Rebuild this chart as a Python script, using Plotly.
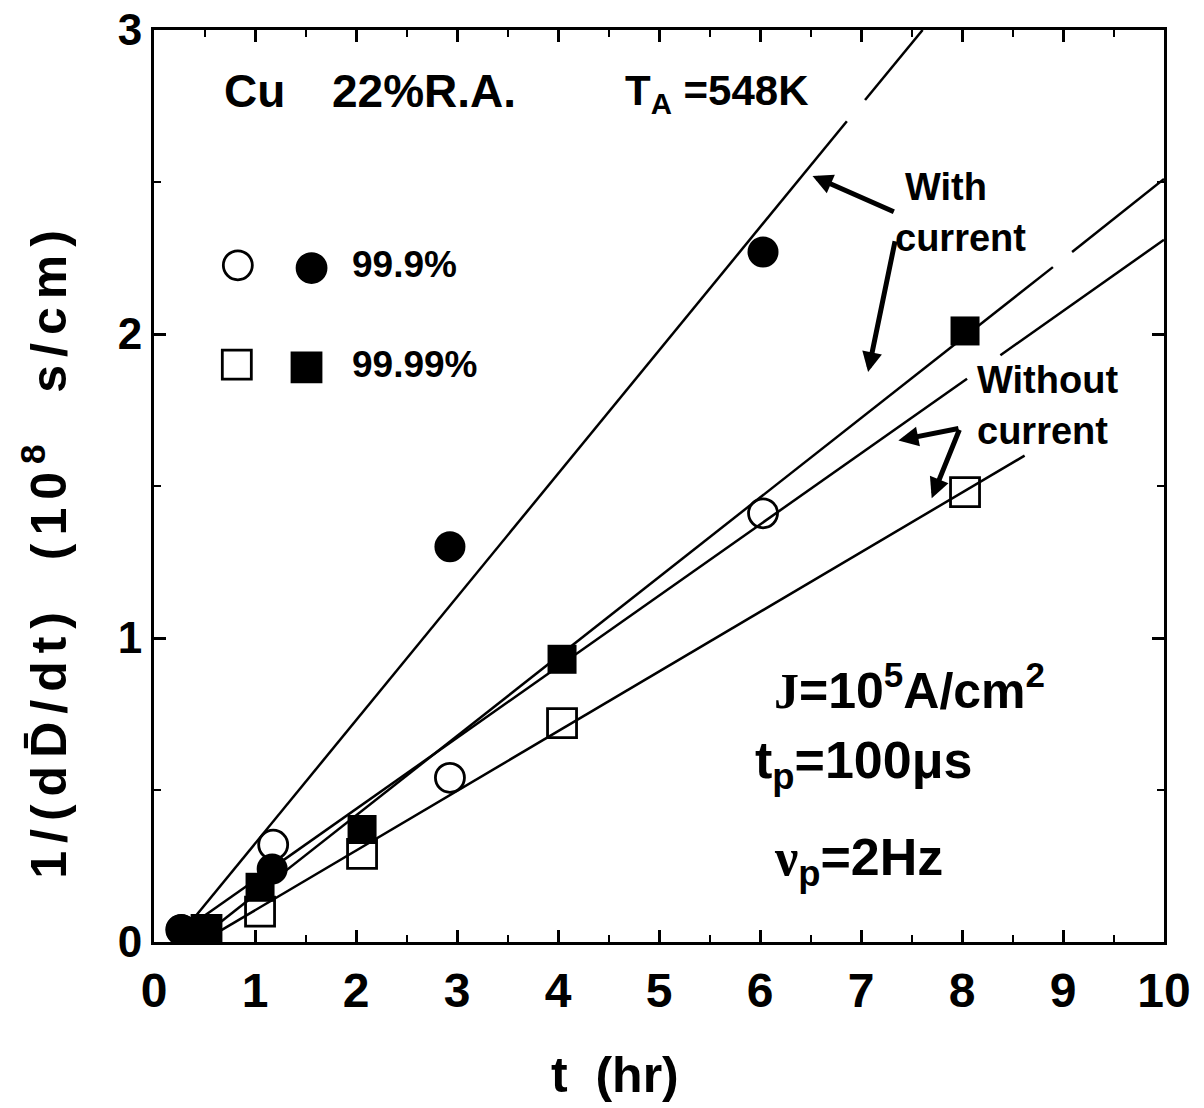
import plotly.graph_objects as go

# ---- data ----
# 99.9% Cu
t_circ_open = [0.27, 1.18, 2.93, 6.03]
d_circ_open = [0.04, 0.32, 0.54, 1.41]
t_circ_fill = [0.27, 1.17, 2.93, 6.03]
d_circ_fill = [0.04, 0.24, 1.30, 2.27]
# 99.99% Cu
t_sq_open = [0.52, 1.05, 2.06, 4.04, 8.03]
d_sq_open = [0.04, 0.10, 0.29, 0.72, 1.48]
t_sq_fill = [0.52, 1.05, 2.06, 4.04, 8.03]
d_sq_fill = [0.04, 0.18, 0.37, 0.93, 2.01]

# fitted lines (None = gap in the drawn line)
fit1_t = [0.35, 6.86, None, 7.04, 7.61]
fit1_d = [0.06, 2.70, None, 2.77, 3.00]
fit2_t = [0.50, 8.90, None, 9.09, 10.0]
fit2_d = [0.024, 2.22, None, 2.27, 2.51]
fit3_t = [0.40, 8.05, None, 8.38, 10.0]
fit3_d = [0.063, 1.853, None, 1.93, 2.31]
fit4_t = [0.55, 8.62]
fit4_d = [0.016, 1.60]

x_ticks = [0, 1, 2, 3, 4, 5, 6, 7, 8, 9, 10]
y_ticks = [0, 1, 2, 3]

FONT = "Liberation Sans, Arial, Helvetica, sans-serif"
BLACK = "black"

fig = go.Figure()

for ft, fd in [(fit1_t, fit1_d), (fit2_t, fit2_d), (fit3_t, fit3_d), (fit4_t, fit4_d)]:
    fig.add_trace(go.Scatter(x=ft, y=fd, mode="lines", line=dict(color=BLACK, width=2.5),
                             connectgaps=False, showlegend=False, hoverinfo="skip"))

MS = 29
fig.add_trace(go.Scatter(x=t_circ_open, y=d_circ_open, mode="markers",
                         marker=dict(symbol="circle-open", size=MS, color=BLACK, line=dict(width=2.8, color=BLACK)),
                         showlegend=False))
fig.add_trace(go.Scatter(x=t_sq_open, y=d_sq_open, mode="markers",
                         marker=dict(symbol="square-open", size=MS, color=BLACK, line=dict(width=2.8, color=BLACK)),
                         showlegend=False))
fig.add_trace(go.Scatter(x=t_circ_fill, y=d_circ_fill, mode="markers",
                         marker=dict(symbol="circle", size=MS + 2, color=BLACK),
                         showlegend=False))
fig.add_trace(go.Scatter(x=t_sq_fill, y=d_sq_fill, mode="markers",
                         marker=dict(symbol="square", size=MS, color=BLACK),
                         showlegend=False))

# key symbols on an invisible overlay axis (fractions of the plot area)
key_fx = [0.083, 0.156, 0.082, 0.151]
key_fy = [0.742, 0.739, 0.633, 0.630]
key_sym = ["circle-open", "circle", "square-open", "square"]
fig.add_trace(go.Scatter(x=key_fx, y=key_fy, xaxis="x2", yaxis="y2", mode="markers",
                         marker=dict(symbol=key_sym, size=MS, color=BLACK, line=dict(width=2.8, color=BLACK)),
                         showlegend=False, hoverinfo="skip"))

axis_common = dict(showline=True, linewidth=3, linecolor=BLACK, mirror="ticks",
                   ticks="inside", ticklen=12, tickwidth=2.5, tickcolor=BLACK,
                   showgrid=False, zeroline=False, automargin=False,
                   ticklabeloverflow="allow")

fig.update_layout(
    width=1204, height=1108,
    margin=dict(l=154, r=40, t=30, b=166),
    paper_bgcolor="white", plot_bgcolor="white",
    xaxis=dict(range=[0, 10], tickmode="array", tickvals=x_ticks,
               ticktext=[str(v) for v in x_ticks], ticklabelstandoff=4,
               tickfont=dict(family=FONT, size=48, color=BLACK, weight="bold"),
               minor=dict(ticks="inside", dtick=0.5, ticklen=7, tickwidth=2, tickcolor=BLACK),
               **axis_common),
    yaxis=dict(range=[0, 3], tickmode="array", tickvals=y_ticks,
               ticktext=[str(v) for v in y_ticks],
               tickfont=dict(family=FONT, size=44, color=BLACK, weight="bold"),
               minor=dict(ticks="inside", dtick=0.5, ticklen=7, tickwidth=2, tickcolor=BLACK),
               **axis_common),
    xaxis2=dict(overlaying="x", range=[0, 1], visible=False, anchor="y2"),
    yaxis2=dict(overlaying="y", range=[0, 1], visible=False, anchor="x2"),
)

def txt(x, y, s, size, xanchor="left", yanchor="middle", xref="x", yref="y", angle=0):
    fig.add_annotation(x=x, y=y, xref=xref, yref=yref, text=s, showarrow=False,
                       xanchor=xanchor, yanchor=yanchor, textangle=angle,
                       font=dict(family=FONT, size=size, color=BLACK, weight="bold"))

# header
txt(0.67, 2.80, "Cu", 46)
txt(1.74, 2.80, "22%R.A.", 46)
txt(4.64, 2.79, "T<sub>A</sub>\u00a0=548K", 42)
# key labels
txt(1.94, 2.23, "99.9%", 37)
txt(1.94, 1.90, "99.99%", 37)
# with / without current
txt(7.42, 2.485, "With", 38)
txt(7.32, 2.315, "current", 38)
txt(8.13, 1.85, "Without", 38)
txt(8.13, 1.68, "current", 38)
# conditions
txt(6.12, 0.84, "<span style='font-family:Liberation Serif'>J</span>=10<sup>5</sup>A/cm<sup>2</sup>", 50)
txt(5.93, 0.585, "t<sub>p</sub>=100\u03bcs", 52)
txt(6.12, 0.265, "<span style='font-family:Liberation Serif'>\u03bd</span><sub>p</sub>=2Hz", 52)

# axis titles
txt(0.456, -0.146, "t\u00a0\u00a0(hr)", 50, xanchor="center", xref="paper", yref="paper")
txt(-0.108, 0.43,
    "<span style='letter-spacing:8px'>1/(dD\u0304/dt)\u00a0\u00a0(10<sup>8</sup>\u00a0\u00a0s/cm)</span>", 50,
    xanchor="center", xref="paper", yref="paper", angle=-90)

# arrows
def arrow(hx, hy, tx, ty):
    fig.add_annotation(x=hx, y=hy, ax=tx, ay=ty, xref="x", yref="y", axref="x", ayref="y",
                       text="", showarrow=True, arrowhead=2, arrowsize=0.8, arrowwidth=5,
                       arrowcolor=BLACK)

arrow(6.52, 2.52, 7.34, 2.40)
arrow(7.07, 1.875, 7.34, 2.31)
arrow(7.37, 1.65, 7.98, 1.69)
arrow(7.70, 1.46, 7.98, 1.69)

fig.write_html("out.html")
